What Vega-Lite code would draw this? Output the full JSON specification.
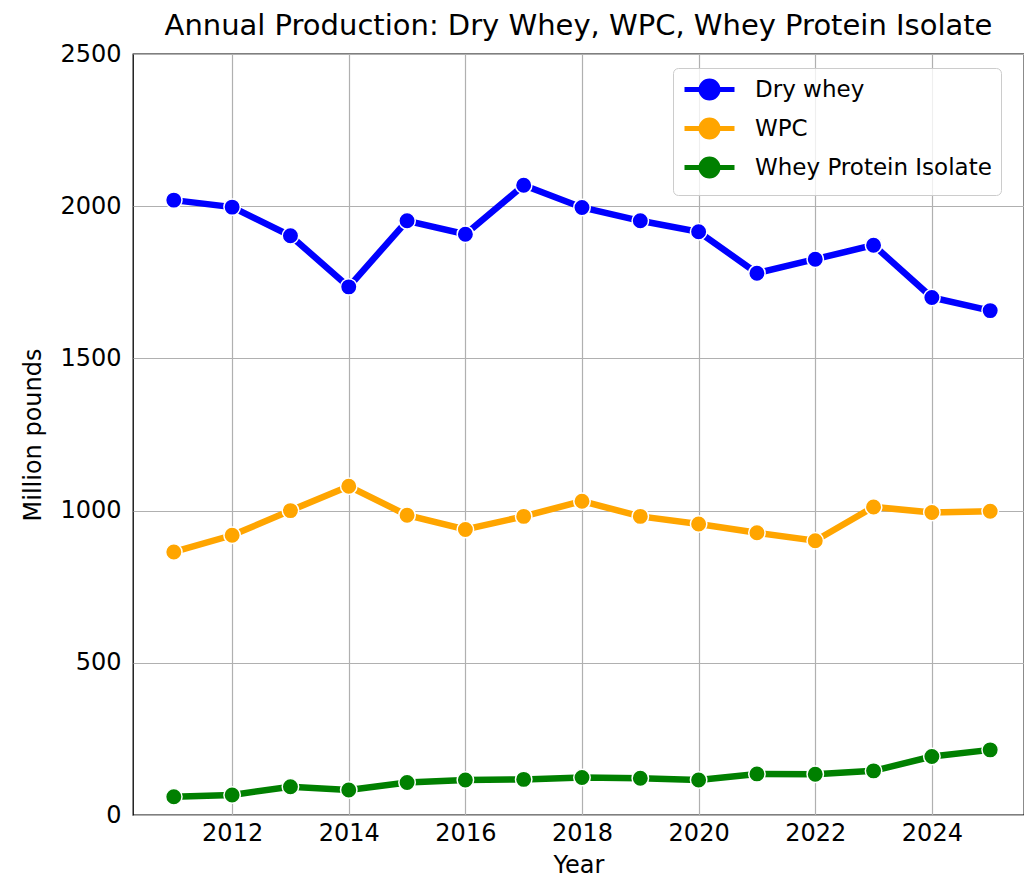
{
  "$schema": "https://vega.github.io/schema/vega-lite/v6.json",
  "autosize": {"type": "none"},
  "padding": {"left": 133, "top": 54, "right": 0, "bottom": 70},
  "width": 891,
  "height": 761,
  "background": "white",
  "title": {
    "text": "Annual Production: Dry Whey, WPC, Whey Protein Isolate",
    "font": "DejaVu Sans",
    "fontSize": 29,
    "fontWeight": "normal",
    "color": "black",
    "anchor": "middle",
    "frame": "group",
    "offset": 1
  },
  "data": {
    "values": [
      {"year": 2011, "series": "Dry whey", "value": 2020},
      {"year": 2012, "series": "Dry whey", "value": 1997},
      {"year": 2013, "series": "Dry whey", "value": 1903},
      {"year": 2014, "series": "Dry whey", "value": 1735},
      {"year": 2015, "series": "Dry whey", "value": 1952},
      {"year": 2016, "series": "Dry whey", "value": 1908},
      {"year": 2017, "series": "Dry whey", "value": 2069},
      {"year": 2018, "series": "Dry whey", "value": 1996},
      {"year": 2019, "series": "Dry whey", "value": 1952},
      {"year": 2020, "series": "Dry whey", "value": 1916},
      {"year": 2021, "series": "Dry whey", "value": 1780},
      {"year": 2022, "series": "Dry whey", "value": 1826},
      {"year": 2023, "series": "Dry whey", "value": 1872},
      {"year": 2024, "series": "Dry whey", "value": 1700},
      {"year": 2025, "series": "Dry whey", "value": 1657},
      {"year": 2011, "series": "WPC", "value": 864},
      {"year": 2012, "series": "WPC", "value": 919},
      {"year": 2013, "series": "WPC", "value": 1000},
      {"year": 2014, "series": "WPC", "value": 1080},
      {"year": 2015, "series": "WPC", "value": 985},
      {"year": 2016, "series": "WPC", "value": 938},
      {"year": 2017, "series": "WPC", "value": 981},
      {"year": 2018, "series": "WPC", "value": 1031},
      {"year": 2019, "series": "WPC", "value": 981},
      {"year": 2020, "series": "WPC", "value": 956},
      {"year": 2021, "series": "WPC", "value": 927},
      {"year": 2022, "series": "WPC", "value": 901},
      {"year": 2023, "series": "WPC", "value": 1012},
      {"year": 2024, "series": "WPC", "value": 994},
      {"year": 2025, "series": "WPC", "value": 998},
      {"year": 2011, "series": "Whey Protein Isolate", "value": 60},
      {"year": 2012, "series": "Whey Protein Isolate", "value": 66},
      {"year": 2013, "series": "Whey Protein Isolate", "value": 93},
      {"year": 2014, "series": "Whey Protein Isolate", "value": 82},
      {"year": 2015, "series": "Whey Protein Isolate", "value": 107},
      {"year": 2016, "series": "Whey Protein Isolate", "value": 115},
      {"year": 2017, "series": "Whey Protein Isolate", "value": 117},
      {"year": 2018, "series": "Whey Protein Isolate", "value": 123},
      {"year": 2019, "series": "Whey Protein Isolate", "value": 121},
      {"year": 2020, "series": "Whey Protein Isolate", "value": 115},
      {"year": 2021, "series": "Whey Protein Isolate", "value": 135},
      {"year": 2022, "series": "Whey Protein Isolate", "value": 134},
      {"year": 2023, "series": "Whey Protein Isolate", "value": 145},
      {"year": 2024, "series": "Whey Protein Isolate", "value": 192},
      {"year": 2025, "series": "Whey Protein Isolate", "value": 214}
    ]
  },
  "encoding": {
    "x": {
      "field": "year",
      "type": "quantitative",
      "title": "Year",
      "scale": {"domain": [2010.3, 2025.58], "nice": false, "zero": false},
      "axis": {
        "values": [2012, 2014, 2016, 2018, 2020, 2022, 2024],
        "format": "d",
        "labelPadding": 6,
        "titlePadding": 8
      }
    },
    "y": {
      "field": "value",
      "type": "quantitative",
      "title": "Million pounds",
      "scale": {"domain": [0, 2500], "nice": false},
      "axis": {
        "values": [0, 500, 1000, 1500, 2000, 2500],
        "format": "d",
        "labelPadding": 12,
        "titlePadding": 14
      }
    },
    "color": {
      "field": "series",
      "type": "nominal",
      "scale": {
        "domain": ["Dry whey", "WPC", "Whey Protein Isolate"],
        "range": ["#0000ff", "#ffa500", "#008000"]
      },
      "legend": {
        "title": null,
        "orient": "none",
        "legendX": 540,
        "legendY": 14,
        "symbolType": "M-2.5,0L-0.95,0M0.95,0L2.5,0M0.85,0A0.85,0.85,0,1,1,-0.85,0A0.85,0.85,0,1,1,0.85,0Z",
        "symbolSize": 400,
        "symbolStrokeWidth": 5,
        "symbolOffset": 15,
        "labelOffset": 33,
        "labelFont": "DejaVu Sans",
        "labelFontSize": 23,
        "labelColor": "black",
        "labelLimit": 500,
        "rowPadding": 2,
        "padding": 9,
        "strokeColor": "#cccccc",
        "fillColor": "rgba(255,255,255,0.8)",
        "cornerRadius": 5,
        "encode": {
          "symbols": {
            "update": {
              "fill": {"scale": "color", "field": "value"},
              "stroke": {"scale": "color", "field": "value"},
              "strokeWidth": {"value": 5},
              "opacity": {"value": 1}
            }
          }
        }
      }
    }
  },
  "layer": [
    {
      "mark": {"type": "line", "strokeWidth": 6.5}
    },
    {
      "mark": {"type": "point", "filled": true, "size": 270, "stroke": "white", "strokeWidth": 1.5, "opacity": 1}
    }
  ],
  "config": {
    "view": {"stroke": "black", "strokeWidth": 1.3},
    "axis": {
      "domain": false,
      "ticks": false,
      "grid": true,
      "gridColor": "#b0b0b0",
      "gridWidth": 1.2,
      "labelFont": "DejaVu Sans",
      "labelFontSize": 24,
      "labelColor": "black",
      "titleFont": "DejaVu Sans",
      "titleFontSize": 24,
      "titleFontWeight": "normal",
      "titleColor": "black"
    }
  }
}
